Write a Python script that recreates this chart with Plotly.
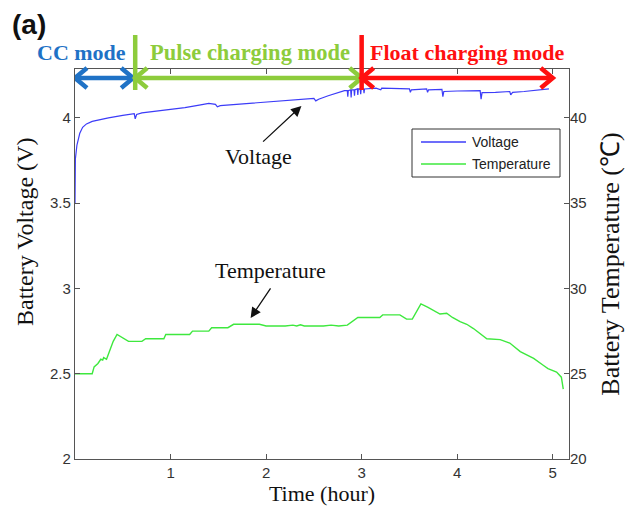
import plotly.graph_objects as go

# Charging record: time (hour) vs battery voltage (V)
volt_t = [0, 0.004, 0.02, 0.05, 0.08, 0.12, 0.18, 0.25, 0.35, 0.5, 0.62, 0.63, 0.645, 0.7,
          0.85, 1.0, 1.15, 1.3, 1.4, 1.47, 1.49, 1.52, 1.7, 1.9, 2.1, 2.3, 2.5, 2.52, 2.55,
          2.65, 2.75, 2.82, 2.85, 2.855, 2.86, 2.885, 2.89, 2.895, 2.92, 2.925, 2.93, 2.955,
          2.96, 2.965, 2.985, 2.99, 2.995, 3.02, 3.025, 3.03, 3.15, 3.2, 3.21, 3.35, 3.5,
          3.51, 3.52, 3.68, 3.69, 3.7, 3.84, 3.85, 3.86, 4.0, 4.1, 4.24, 4.25, 4.26, 4.4,
          4.55, 4.56, 4.58, 4.7, 4.85, 4.96]
volt_v = [3.50, 3.76, 3.84, 3.91, 3.945, 3.965, 3.98, 3.99, 4.0, 4.015, 4.025, 3.995, 4.02, 4.03,
          4.04, 4.05, 4.06, 4.075, 4.085, 4.08, 4.065, 4.072, 4.08, 4.09, 4.10, 4.11, 4.115, 4.10, 4.11,
          4.13, 4.15, 4.16, 4.16, 4.125, 4.16, 4.165, 4.12, 4.165, 4.165, 4.13, 4.165, 4.17,
          4.135, 4.17, 4.17, 4.14, 4.17, 4.17, 4.145, 4.17, 4.175, 4.165, 4.175, 4.172, 4.17,
          4.15, 4.165, 4.17, 4.15, 4.165, 4.168, 4.125, 4.155, 4.158, 4.16, 4.16, 4.11, 4.148, 4.15,
          4.155, 4.135, 4.15, 4.155, 4.165, 4.17]

# Charging record: time (hour) vs battery temperature (°C)
temp_t = [0, 0.18, 0.2, 0.24, 0.27, 0.29, 0.3, 0.33, 0.36, 0.4, 0.44, 0.5, 0.56, 0.7, 0.74,
          0.93, 0.95, 1.2, 1.23, 1.4, 1.43, 1.6, 1.66, 1.93, 2.0, 2.2, 2.28, 2.32, 2.36, 2.4,
          2.6, 2.68, 2.76, 2.85, 2.96, 3.19, 3.22, 3.4, 3.44, 3.47, 3.53, 3.62, 3.69, 3.82,
          3.89, 3.95, 4.03, 4.1, 4.17, 4.25, 4.31, 4.45, 4.55, 4.66, 4.8, 4.9, 4.95, 5.04,
          5.09, 5.11]
temp_c = [25.0, 25.0, 25.4, 25.6, 25.85, 25.8, 25.95, 25.85, 26.3, 26.9, 27.3, 27.1, 26.9, 26.9, 27.05,
          27.05, 27.3, 27.3, 27.5, 27.5, 27.7, 27.7, 27.9, 27.9, 27.8, 27.8, 27.85, 27.8, 27.87, 27.8,
          27.8, 27.85, 27.8, 27.85, 28.3, 28.3, 28.45, 28.45, 28.3, 28.2, 28.2, 29.1, 28.9, 28.5,
          28.55, 28.3, 28.05, 27.9, 27.65, 27.3, 27.05, 27.0, 26.8, 26.3, 25.9, 25.5, 25.3, 25.1,
          24.8, 24.1]

# Charging stages (hour boundaries) and their labels/colours
mode_bounds = [0, 0.63, 3.0, 5.0]
mode_names = ["CC mode", "Pulse charging mode", "Float charging mode"]
mode_colors = ["#1f72c6", "#8dcc3c", "#ff1010"]

x_ticks = [1, 2, 3, 4, 5]
v_ticks = [2, 2.5, 3, 3.5, 4]
v_tick_text = ["2", "2.5", "3", "3.5", "4"]
t_ticks = [20, 25, 30, 35, 40]

V_COLOR = "#3c3cf8"
T_COLOR = "#3ee83e"
FRAME = "#555555"
SERIF = "Liberation Serif"
SANS = "Liberation Sans"

W, H = 632, 509
ML, MR, MT, MB = 75, 63, 69, 50
PW, PH = W - ML - MR, H - MT - MB
X_RANGE = [0, 5.17]


def px_x(px):
    return (px - ML) / PW


def px_y(py):
    return (H - MB - py) / PH


fig = go.Figure()
fig.add_trace(go.Scatter(x=volt_t, y=volt_v, mode="lines", name="Voltage",
                         line=dict(color=V_COLOR, width=1.2), showlegend=False))
fig.add_trace(go.Scatter(x=temp_t, y=temp_c, mode="lines", name="Temperature", yaxis="y2",
                         line=dict(color=T_COLOR, width=1.4), showlegend=False))

shapes = []
annotations = []

# Stage arrows above the plot
xs_per_px = (X_RANGE[1] - X_RANGE[0]) / PW
arrow_y = px_y(78)
head_dx = 12 * xs_per_px
head_dy = 10 / PH
for i, (name, col) in enumerate(zip(mode_names, mode_colors)):
    x0, x1 = mode_bounds[i], mode_bounds[i + 1]
    if i == 0:
        x1 -= 2 * xs_per_px
    shapes.append(dict(type="line", xref="x", yref="paper", x0=x0, x1=x1,
                       y0=arrow_y, y1=arrow_y, line=dict(color=col, width=4.5)))
    for xe, d in ((x0, 1), (x1, -1)):
        shapes.append(dict(type="path", xref="x", yref="paper",
                           path=f"M {xe + d * head_dx} {arrow_y + head_dy} L {xe} {arrow_y} "
                                f"L {xe + d * head_dx} {arrow_y - head_dy}",
                           line=dict(color=col, width=4.5)))
    if i > 0:
        shapes.append(dict(type="line", xref="x", yref="paper", x0=x0, x1=x0,
                           y0=px_y(90), y1=px_y(35), line=dict(color=col, width=4.5)))

# Stage labels
annotations.append(dict(text="<b>CC mode</b>", xref="x", yref="paper",
                        x=mode_bounds[1] - 7 * xs_per_px, y=px_y(53), xanchor="right",
                        yanchor="middle", showarrow=False,
                        font=dict(family=SERIF, size=22, color=mode_colors[0])))
annotations.append(dict(text="<b>Pulse charging mode</b>", xref="x", yref="paper",
                        x=mode_bounds[2] - 10 * xs_per_px, y=px_y(53), xanchor="right",
                        yanchor="middle", showarrow=False,
                        font=dict(family=SERIF, size=22.5, color=mode_colors[1])))
annotations.append(dict(text="<b>Float charging mode</b>", xref="x", yref="paper",
                        x=mode_bounds[2] + 6 * xs_per_px, y=px_y(53), xanchor="left",
                        yanchor="middle", showarrow=False,
                        font=dict(family=SERIF, size=22, color=mode_colors[2])))

# Panel tag
annotations.append(dict(text="<b>(a)</b>", xref="paper", yref="paper", x=px_x(10), y=px_y(25),
                        xanchor="left", yanchor="middle", showarrow=False,
                        font=dict(family=SANS, size=28, color="#111111")))

# Left axis title (set slightly above the plot centre)
annotations.append(dict(text="Battery Voltage (V)", xref="paper", yref="paper",
                        x=px_x(25), y=px_y(232), xanchor="center", yanchor="middle",
                        textangle=-90, showarrow=False,
                        font=dict(family=SERIF, size=24, color="#111111")))

# Curve call-outs
annotations.append(dict(text="", x=2.37, y=4.07, xref="x", yref="y", ax=1.953, ay=3.853,
                        axref="x", ayref="y", showarrow=True, arrowhead=2, arrowsize=1.6,
                        arrowwidth=1.3, arrowcolor="#111111"))
annotations.append(dict(text="Voltage", x=1.92, y=3.771, xref="x", yref="y", showarrow=False,
                        font=dict(family=SERIF, size=22, color="#111111")))
annotations.append(dict(text="", x=1.838, y=28.27, xref="x", yref="y2", ax=2.057, ay=30.09,
                        axref="x", ayref="y2", showarrow=True, arrowhead=2, arrowsize=1.6,
                        arrowwidth=1.3, arrowcolor="#111111"))
annotations.append(dict(text="Temperature", x=2.047, y=31.08, xref="x", yref="y2",
                        showarrow=False, font=dict(family=SERIF, size=22, color="#111111")))

# Legend box
shapes.append(dict(type="rect", xref="paper", yref="paper", x0=px_x(412), x1=px_x(560),
                   y0=px_y(177), y1=px_y(129), line=dict(color="#333333", width=1),
                   fillcolor="white"))
for yy, col, lab in ((142, V_COLOR, "Voltage"), (164, T_COLOR, "Temperature")):
    shapes.append(dict(type="line", xref="paper", yref="paper", x0=px_x(421), x1=px_x(466),
                       y0=px_y(yy), y1=px_y(yy), line=dict(color=col, width=1.5)))
    annotations.append(dict(text=lab, xref="paper", yref="paper", x=px_x(470), y=px_y(yy),
                            xanchor="left", yanchor="middle", showarrow=False,
                            font=dict(family=SANS, size=14, color="#222222")))

tick_font = dict(family=SANS, size=15, color="#333333")
fig.update_layout(
    width=W, height=H, margin=dict(l=ML, r=MR, t=MT, b=MB, autoexpand=False),
    paper_bgcolor="white", plot_bgcolor="white",
    xaxis=dict(range=X_RANGE, tickvals=x_ticks, ticks="inside", ticklen=5, tickcolor=FRAME,
               showline=True, linecolor=FRAME, linewidth=1.3, mirror="ticks", showgrid=False,
               zeroline=False, tickfont=tick_font,
               title=dict(text="Time (hour)", standoff=4,
                          font=dict(family=SERIF, size=22, color="#111111"))),
    yaxis=dict(range=[2, 4.287], tickvals=v_ticks, ticktext=v_tick_text, ticks="inside",
               ticklen=5, tickcolor=FRAME, showline=True, linecolor=FRAME, linewidth=1.3,
               mirror=True, showgrid=False, zeroline=False, tickfont=tick_font),
    yaxis2=dict(range=[20, 42.87], tickvals=t_ticks, ticks="inside", ticklen=5,
                tickcolor=FRAME, overlaying="y", side="right", showline=False,
                showgrid=False, zeroline=False, tickfont=tick_font,
                title=dict(text="Battery Temperature (\u2103)", standoff=15,
                           font=dict(family=SERIF, size=26, color="#111111"))),
    shapes=shapes, annotations=annotations, showlegend=False,
)

fig.write_html("out.html")
